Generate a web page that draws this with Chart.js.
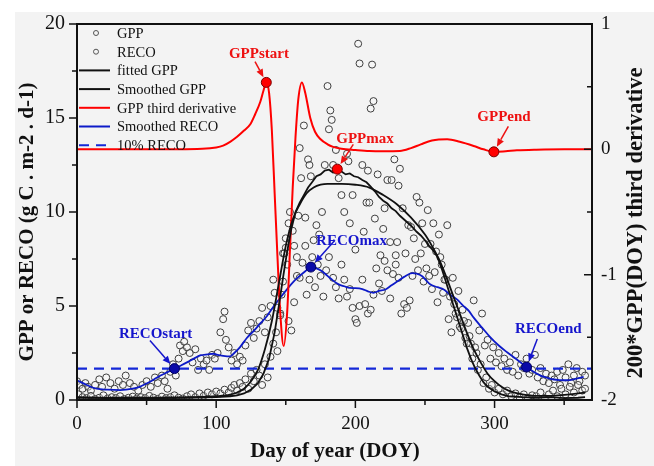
<!DOCTYPE html>
<html>
<head>
<meta charset="utf-8">
<script src="https://cdn.jsdelivr.net/npm/chart.js@4.4.1/dist/chart.umd.min.js"></script>
<style>
  html, body { margin: 0; padding: 0; background: #fff; }
  #wrap { width: 654px; height: 466px; }
</style>
</head>
<body>
<div id="wrap"><canvas id="chart" width="654" height="466"></canvas></div>
<script>
// Tick labels
const doyTicks = [0, 100, 200, 300];
const fluxTicks = [0, 5, 10, 15, 20];
const derivTicks = [-2, -1, 0, 1];

// Daily GPP observations (g C m-2 d-1)
const gppDoy = [
    1, 4, 7, 10, 13, 16, 19, 22, 25, 28,
    31, 34, 37, 40, 43, 46, 49, 52, 55, 58,
    61, 64, 67, 70, 73, 76, 79, 82, 85, 88,
    91, 94, 97, 100, 103, 106, 109, 111, 113, 115,
    117, 119, 121, 123, 125, 127, 129, 131, 133, 135,
    137, 139, 141, 143, 144, 146, 147, 148, 149, 150,
    151, 152, 153, 155, 156, 158, 159, 160, 161, 163,
    164, 166, 167, 168, 170, 172, 174, 176, 178, 180,
    181, 182, 183, 184, 186, 188, 190, 192, 194, 195,
    196, 198, 200, 202, 203, 205, 206, 208, 209, 210,
    211, 212, 213, 214, 216, 218, 220, 221, 223, 225,
    226, 228, 229, 230, 231, 232, 234, 236, 238, 240,
    242, 244, 246, 248, 250, 252, 254, 256, 258, 260,
    262, 264, 266, 268, 270, 272, 274, 276, 278, 280,
    282, 284, 286, 288, 290, 292, 294, 296, 298, 300,
    303, 306, 309, 312, 315, 318, 321, 324, 327, 330,
    333, 336, 339, 342, 345, 348, 351, 354, 357, 360,
    363, 365
];
const gppObs = [
    0.30, 0.15, 0.10, 0.22, 0.05, 0.12, 0.25, 0.08, 0.15, 0.10,
    0.20, 0.05, 0.12, 0.18, 0.08, 0.15, 0.10, 0.22, 0.12, 0.06,
    0.18, 0.10, 0.15, 0.25, 0.12, 0.08, 0.20, 0.30, 0.15, 0.35,
    0.22, 0.40, 0.30, 0.45, 0.35, 0.55, 0.40, 0.65, 0.80, 0.50,
    0.90, 0.70, 1.10, 0.60, 1.40, 1.00, 1.60, 1.30, 0.80, 1.90,
    1.20, 2.30, 3.00, 3.60, 2.60, 4.50, 5.60, 6.30, 7.80, 8.60,
    7.20, 9.40, 10.00, 9.00, 8.20, 7.60, 9.80, 13.40, 11.80, 14.60,
    9.70, 12.80, 12.50, 11.90, 8.50, 9.30, 8.80, 10.00, 12.50, 16.70,
    14.40, 15.40, 14.90, 12.50, 13.30, 11.80, 10.90, 10.00, 13.10, 12.70,
    9.40, 10.90, 8.00, 18.95, 17.90, 12.50, 8.95, 10.50, 12.20, 10.50,
    15.50, 17.84, 15.90, 9.65, 12.00, 7.70, 9.10, 10.20, 11.70, 8.40,
    11.70, 12.80, 7.70, 8.40, 11.40, 12.30, 10.20, 7.80, 9.30, 9.20,
    8.60, 10.80, 10.50, 9.40, 8.30, 10.10, 8.30, 9.40, 7.90, 8.80,
    7.20, 6.40, 9.30, 5.50, 6.50, 4.60, 5.80, 3.80, 4.20, 3.00,
    3.40, 2.20, 2.80, 1.60, 1.90, 0.90, 1.20, 0.60, 0.80, 0.40,
    0.60, 0.30, 0.50, 0.20, 0.35, 0.15, 0.30, 0.10, 0.25, 0.20,
    0.40, 0.10, 0.30, 0.50, 0.20, 0.60, 0.30, 0.70, 0.40, 0.80,
    0.50, 0.60
];

// Daily RECO observations (g C m-2 d-1)
const recoDoy = [
    0, 2, 4, 6, 8, 10, 13, 16, 18, 21,
    24, 27, 30, 33, 35, 38, 41, 44, 47, 50,
    53, 56, 58, 61, 63, 65, 67, 69, 71, 73,
    74, 76, 77, 79, 81, 83, 85, 87, 89, 91,
    93, 95, 97, 99, 101, 103, 105, 106, 107, 109,
    111, 113, 115, 117, 119, 121, 123, 125, 127, 129,
    131, 133, 135, 137, 139, 141, 142, 144, 146, 148,
    150, 152, 154, 156, 158, 160, 162, 164, 165, 167,
    169, 171, 173, 175, 177, 179, 181, 184, 186, 188,
    190, 192, 194, 196, 198, 200, 201, 203, 205, 207,
    209, 211, 213, 215, 217, 219, 221, 223, 225, 227,
    229, 231, 233, 235, 237, 239, 241, 243, 245, 247,
    249, 251, 253, 255, 257, 259, 261, 263, 265, 267,
    269, 271, 273, 275, 277, 279, 281, 283, 285, 287,
    289, 291, 293, 295, 297, 299, 301, 303, 305, 307,
    309, 311, 313, 315, 317, 319, 321, 323, 325, 327,
    329, 331, 333, 335, 337, 339, 341, 343, 345, 347,
    349, 351, 353, 355, 357, 359, 361, 363, 365
];
const recoObs = [
    1.00, 0.80, 0.60, 0.90, 0.70, 0.50, 0.80, 1.10, 0.70, 1.20,
    0.90, 0.60, 1.00, 0.80, 1.30, 0.90, 0.70, 0.50, 0.80, 1.00,
    0.70, 1.20, 0.90, 1.30, 1.00, 0.60, 1.50, 1.90, 1.30, 2.20,
    2.90, 2.60, 3.10, 2.80, 2.50, 2.00, 2.70, 1.60, 2.20, 1.90,
    2.10, 1.60, 2.40, 2.20, 2.50, 3.60, 4.30, 4.70, 3.20, 2.80,
    2.10, 2.50, 1.90, 2.30, 2.10, 2.90, 3.70, 4.10, 3.30, 3.80,
    4.20, 4.90, 3.60, 4.40, 5.00, 6.40, 5.70, 4.90, 4.60, 7.80,
    8.10, 4.20, 3.70, 5.20, 6.60, 6.50, 7.30, 8.20, 5.60, 6.40,
    7.60, 6.00, 7.20, 6.60, 5.50, 6.90, 7.60, 6.50, 6.00, 5.40,
    7.20, 6.40, 5.50, 5.90, 4.90, 4.30, 4.10, 5.00, 6.40, 5.10,
    4.60, 4.80, 5.60, 7.00, 6.20, 5.80, 7.40, 6.90, 5.40, 6.70,
    7.20, 6.50, 4.60, 5.10, 4.90, 5.30, 6.60, 7.50, 6.90, 7.80,
    6.30, 7.00, 6.60, 5.90, 6.80, 5.20, 7.60, 5.70, 6.40, 4.30,
    3.60, 5.10, 4.40, 3.90, 4.80, 3.30, 4.10, 3.00, 5.30, 2.50,
    3.70, 4.60, 2.90, 3.20, 2.20, 2.80, 2.00, 2.50, 1.80, 2.20,
    1.60, 2.00, 1.50, 2.40, 1.30, 1.90, 1.70, 2.20, 1.40, 1.60,
    2.40, 1.20, 1.70, 1.00, 1.40, 0.90, 1.30, 1.10, 1.50, 0.80,
    1.60, 1.20, 1.90, 0.90, 1.30, 1.70, 1.00, 1.50, 1.30
];

// Fitted GPP (double logistic)
const fittedDoy = [0, 20, 40, 60, 80, 100, 110, 115, 120, 125, 130, 135, 140, 145, 150, 155, 160, 165, 170, 175, 180, 190, 200, 210, 220, 230, 240, 250, 255, 260, 265, 270, 275, 280, 285, 290, 295, 300, 305, 310, 315, 320, 330, 340, 350, 360, 365];
const fittedGpp = [0.12, 0.12, 0.12, 0.13, 0.15, 0.20, 0.28, 0.40, 0.60, 1.00, 1.60, 2.70, 4.20, 6.20, 8.20, 9.60, 10.40, 11.00, 11.30, 11.45, 11.50, 11.50, 11.45, 11.30, 10.90, 10.40, 9.70, 8.80, 8.20, 7.50, 6.60, 5.60, 4.60, 3.60, 2.70, 2.00, 1.40, 1.00, 0.70, 0.50, 0.38, 0.30, 0.22, 0.22, 0.27, 0.35, 0.40];

// Smoothed GPP
const smoothGppDoy = [0, 20, 40, 60, 80, 100, 110, 115, 120, 125, 130, 134, 138, 142, 145, 148, 151, 154, 157, 160, 163, 166, 169, 172, 175, 178, 181, 184, 187, 190, 193, 196, 199, 202, 205, 208, 211, 214, 217, 220, 223, 226, 229, 232, 235, 238, 241, 244, 247, 250, 253, 256, 259, 262, 265, 268, 271, 274, 277, 280, 283, 286, 289, 292, 295, 300, 305, 310, 320, 330, 340, 350, 360, 365];
const smoothGpp = [0.15, 0.10, 0.12, 0.10, 0.12, 0.15, 0.20, 0.25, 0.35, 0.55, 0.90, 1.40, 2.20, 3.60, 5.00, 6.50, 7.90, 9.10, 10.00, 10.50, 10.90, 11.30, 11.60, 11.90, 12.00, 12.20, 12.25, 12.10, 12.28, 12.15, 12.00, 12.05, 11.90, 11.85, 11.70, 11.58, 11.35, 11.10, 10.80, 10.60, 10.45, 10.20, 10.05, 9.80, 9.60, 9.40, 9.20, 8.95, 8.75, 8.50, 8.20, 7.95, 7.60, 7.00, 6.30, 5.60, 4.90, 4.20, 3.50, 2.80, 2.20, 1.70, 1.30, 0.95, 0.70, 0.45, 0.30, 0.20, 0.15, 0.12, 0.15, 0.10, 0.12, 0.15];

// 200 * third derivative of fitted GPP (right axis)
const derivDoy = [0, 50, 90, 100, 105, 110, 115, 120, 124.5, 128, 131.7, 134, 136, 138, 140, 142, 144, 146, 148.5, 151, 153, 155, 157, 159, 161.6, 164, 167.6, 171, 175, 180, 184, 190, 200, 210, 220, 232, 240, 247, 255, 266, 275, 285, 292, 299.5, 308, 316, 330, 350, 370];
const derivGpp = [0, 0, 0.005, 0.015, 0.03, 0.06, 0.10, 0.15, 0.20, 0.28, 0.38, 0.47, 0.534, 0.45, 0.15, -0.35, -0.85, -1.30, -1.57, -1.30, -0.80, -0.30, 0.10, 0.40, 0.534, 0.45, 0.25, 0.14, 0.08, 0.04, 0.02, 0.005, -0.005, -0.013, -0.015, -0.013, 0.01, 0.04, 0.07, 0.08, 0.06, 0.027, 0.0, -0.02, -0.015, -0.008, -0.003, 0, 0];

// Smoothed RECO
const smoothRecoDoy = [0, 7, 14, 22, 31, 40, 45, 50, 55, 60, 65, 70, 75, 79, 84, 88.5, 94, 98, 101, 105, 110, 113, 117, 122, 127, 132, 136.5, 141, 146, 151, 155.6, 160, 164, 168, 172, 176, 180, 184, 188, 192, 196, 200, 205, 209, 213, 217, 221.6, 226, 230, 235, 240.8, 244, 248, 251, 254, 259, 263.5, 268, 273, 277, 281.5, 285, 291, 297, 303, 309, 316, 323, 328, 333, 338, 342.7, 347, 352, 358, 364];
const smoothReco = [1.05, 0.80, 0.60, 0.55, 0.53, 0.60, 0.70, 0.88, 1.08, 1.30, 1.48, 1.67, 1.85, 2.00, 2.20, 2.37, 2.43, 2.46, 2.40, 2.35, 2.32, 2.50, 2.80, 3.30, 3.68, 4.10, 4.47, 4.95, 5.44, 5.90, 6.30, 6.60, 6.85, 7.07, 7.00, 6.85, 6.60, 6.35, 6.15, 6.05, 5.96, 5.95, 5.90, 5.78, 5.70, 5.80, 5.88, 6.10, 6.30, 6.55, 6.75, 6.72, 6.58, 6.35, 6.14, 6.00, 5.88, 5.60, 5.35, 5.05, 4.74, 4.38, 3.85, 3.33, 2.90, 2.54, 2.15, 1.75, 1.50, 1.30, 1.18, 1.09, 1.06, 1.05, 1.12, 1.23];

// 10% of RECO amplitude threshold
const recoThresholdDoy = [0, 370];
const recoThreshold = [1.67, 1.67];

// Phenological dates
const gppTransitionDoy = [136, 299.5];       // GPPstart, GPPend (on the derivative curve)
const gppTransitionDeriv = [0.534, -0.02];
const gppMaxDoy = [187];
const gppMaxValue = [12.28];
const recoPhenoDoy = [70, 168, 323];          // RECOstart, RECOmax, RECOend
const recoPhenoValue = [1.67, 7.07, 1.75];

const RED = '#ff0000';
const BLUE = '#0d1ac8';
const SERIF = "'Liberation Serif', 'Times New Roman', serif";

function pairs(xs, ys) {
    return xs.map((x, i) => ({ x: x, y: ys[i] }));
}

// Callouts: text centre and arrow tail in data units (left axis)
const callouts = [
    { text: 'GPPstart', color: '#ee1111', at: [130.7, 18.42], tail: [127.9, 18.0], ds: 0, idx: 0 },
    { text: 'GPPmax', color: '#ee1111', at: [206.9, 13.9], tail: [198.5, 13.6], ds: 1, idx: 0 },
    { text: 'GPPend', color: '#ee1111', at: [306.8, 15.05], tail: [309.9, 14.55], ds: 0, idx: 1 },
    { text: 'RECOstart', color: '#1515cc', at: [56.5, 3.51], tail: [52.4, 3.16], ds: 2, idx: 0 },
    { text: 'RECOmax', color: '#1515cc', at: [197.2, 8.47], tail: [185.3, 8.5], ds: 2, idx: 1 },
    { text: 'RECOend', color: '#1515cc', at: [338.6, 3.77], tail: [330.7, 3.25], ds: 2, idx: 2 }
];

function drawArrow(ctx, x0, y0, x1, y1, color) {
    const ang = Math.atan2(y1 - y0, x1 - x0);
    const hx = x1 - 8 * Math.cos(ang);
    const hy = y1 - 8 * Math.sin(ang);
    ctx.strokeStyle = color;
    ctx.fillStyle = color;
    ctx.lineWidth = 1.5;
    ctx.beginPath();
    ctx.moveTo(x0, y0);
    ctx.lineTo(hx, hy);
    ctx.stroke();
    ctx.beginPath();
    ctx.moveTo(x1, y1);
    ctx.lineTo(hx + 3.5 * Math.sin(ang), hy - 3.5 * Math.cos(ang));
    ctx.lineTo(hx - 3.5 * Math.sin(ang), hy + 3.5 * Math.cos(ang));
    ctx.closePath();
    ctx.fill();
}

// Background, frame, minor ticks, titles, legend and callouts
const decorations = {
    id: 'decorations',
    beforeDraw(chart) {
        const ctx = chart.ctx;
        ctx.save();
        ctx.fillStyle = '#ffffff';
        ctx.fillRect(0, 0, chart.width, chart.height);
        ctx.fillStyle = '#f3f3f3';
        ctx.fillRect(15, 12, chart.width - 15, chart.height - 12);
        ctx.restore();
    },
    afterDraw(chart) {
        const ctx = chart.ctx;
        const a = chart.chartArea;
        const sx = chart.scales.x, sy = chart.scales.y, sy2 = chart.scales.y2;
        ctx.save();

        // frame
        ctx.strokeStyle = '#111';
        ctx.lineWidth = 2;
        ctx.strokeRect(a.left, a.top, a.right - a.left, a.bottom - a.top);

        // ticks
        ctx.lineWidth = 1.5;
        ctx.beginPath();
        for (let v = 0; v <= 370; v += 50) {
            const px = sx.getPixelForValue(v);
            ctx.moveTo(px, a.bottom);
            ctx.lineTo(px, a.bottom + (v % 100 === 0 ? 8 : 5));
        }
        for (let v = 0; v <= 20; v += 2.5) {
            const py = sy.getPixelForValue(v);
            ctx.moveTo(a.left, py);
            ctx.lineTo(a.left - (v % 5 === 0 ? 8 : 5), py);
        }
        for (let v = -2; v <= 1; v += 0.5) {
            const py = sy2.getPixelForValue(v);
            ctx.moveTo(a.right, py);
            ctx.lineTo(a.right - (Number.isInteger(v) ? 8 : 5), py);
        }
        ctx.stroke();

        // axis titles
        ctx.fillStyle = '#111';
        ctx.textAlign = 'center';
        ctx.textBaseline = 'middle';
        ctx.font = 'bold 21px ' + SERIF;
        ctx.fillText('Day of year (DOY)', 335, 452);
        ctx.save();
        ctx.translate(28, 222);
        ctx.rotate(-Math.PI / 2);
        ctx.fillText('GPP or RECO (g C . m-2 . d-1)', 0, 0);
        ctx.restore();
        ctx.font = 'bold 22.5px ' + SERIF;
        ctx.save();
        ctx.translate(636, 223);
        ctx.rotate(-Math.PI / 2);
        ctx.fillText('200*GPP(DOY) third derivative', 0, 0);
        ctx.restore();

        // callouts
        ctx.font = 'bold 15px ' + SERIF;
        callouts.forEach(c => {
            const pt = chart.getDatasetMeta(c.ds).data[c.idx];
            const tx = sx.getPixelForValue(c.tail[0]);
            const ty = sy.getPixelForValue(c.tail[1]);
            const ang = Math.atan2(pt.y - ty, pt.x - tx);
            drawArrow(ctx, tx, ty, pt.x - 6 * Math.cos(ang), pt.y - 6 * Math.sin(ang), c.color);
            ctx.fillStyle = c.color;
            ctx.fillText(c.text, sx.getPixelForValue(c.at[0]), sy.getPixelForValue(c.at[1]));
        });

        // legend (inside plot, top left)
        ctx.font = '14.5px ' + SERIF;
        ctx.textAlign = 'left';
        let row = 0;
        chart.data.datasets.forEach(ds => {
            if (!ds.legend) return;
            const y = a.top + 9 + row * 18.7;
            row++;
            if (ds.legend === 'point') {
                ctx.strokeStyle = '#555';
                ctx.lineWidth = 1;
                ctx.beginPath();
                ctx.arc(a.left + 19, y, 2.5, 0, Math.PI * 2);
                ctx.stroke();
            } else {
                ctx.strokeStyle = ds.borderColor;
                ctx.lineWidth = 2;
                ctx.setLineDash(ds.borderDash || []);
                ctx.beginPath();
                ctx.moveTo(a.left + 2, y);
                ctx.lineTo(a.left + 33, y);
                ctx.stroke();
                ctx.setLineDash([]);
            }
            ctx.fillStyle = '#111';
            ctx.fillText(ds.label, a.left + 40, y + 1);
        });
        ctx.restore();
    }
};

const pointStyle = {
    showLine: false,
    pointRadius: 3.5,
    pointBorderColor: '#3f3f3f',
    pointBackgroundColor: 'rgba(255,255,255,0.3)',
    pointBorderWidth: 1,
    borderColor: '#3f3f3f'
};

const datasets = [
    // 0: GPP start / end markers (derivative axis)
    { label: 'GPP transitions', data: pairs(gppTransitionDoy, gppTransitionDeriv), yAxisID: 'y2',
      showLine: false, pointRadius: 5, pointBackgroundColor: RED, pointBorderColor: '#7a0000', pointBorderWidth: 1, order: 0 },
    // 1: GPP max marker
    { label: 'GPP max', data: pairs(gppMaxDoy, gppMaxValue), yAxisID: 'y',
      showLine: false, pointRadius: 5, pointBackgroundColor: RED, pointBorderColor: '#7a0000', pointBorderWidth: 1, order: 0 },
    // 2: RECO markers
    { label: 'RECO phenology', data: pairs(recoPhenoDoy, recoPhenoValue), yAxisID: 'y',
      showLine: false, pointRadius: 5, pointBackgroundColor: '#0a0aa8', pointBorderColor: '#000060', pointBorderWidth: 1, order: 0 },
    { label: 'GPP', legend: 'point', data: pairs(gppDoy, gppObs), yAxisID: 'y', order: 6, ...pointStyle },
    { label: 'RECO', legend: 'point', data: pairs(recoDoy, recoObs), yAxisID: 'y', order: 6, ...pointStyle },
    { label: 'fitted GPP', legend: 'line', data: pairs(fittedDoy, fittedGpp), yAxisID: 'y',
      showLine: true, borderColor: '#111', borderWidth: 1.8, pointRadius: 0, cubicInterpolationMode: 'monotone', order: 1 },
    { label: 'Smoothed GPP', legend: 'line', data: pairs(smoothGppDoy, smoothGpp), yAxisID: 'y',
      showLine: true, borderColor: '#111', borderWidth: 1.8, pointRadius: 0, tension: 0, order: 1 },
    { label: 'GPP third derivative', legend: 'line', data: pairs(derivDoy, derivGpp), yAxisID: 'y2',
      showLine: true, borderColor: RED, borderWidth: 2, pointRadius: 0, cubicInterpolationMode: 'monotone', order: 2 },
    { label: 'Smoothed RECO', legend: 'line', data: pairs(smoothRecoDoy, smoothReco), yAxisID: 'y',
      showLine: true, borderColor: BLUE, borderWidth: 1.8, pointRadius: 0, cubicInterpolationMode: 'monotone', order: 3 },
    { label: '10% RECO', legend: 'line', data: pairs(recoThresholdDoy, recoThreshold), yAxisID: 'y',
      showLine: true, borderColor: '#1428d8', borderWidth: 2.2, borderDash: [10, 7], pointRadius: 0, order: 4 }
];

new Chart(document.getElementById('chart').getContext('2d'), {
    type: 'scatter',
    data: { datasets: datasets },
    options: {
        responsive: false,
        animation: false,
        layout: { padding: { top: 20, left: 0, right: 0, bottom: 0 } },
        plugins: {
            legend: { display: false },
            tooltip: { enabled: false }
        },
        scales: {
            x: {
                type: 'linear',
                min: 0,
                max: 370,
                afterBuildTicks: axis => { axis.ticks = doyTicks.map(v => ({ value: v })); },
                afterFit: axis => { axis.height = 66; },
                grid: { display: false, drawTicks: false },
                border: { display: false },
                ticks: { color: '#111', padding: 13, maxRotation: 0, font: { family: SERIF, size: 19 } }
            },
            y: {
                type: 'linear',
                position: 'left',
                min: 0,
                max: 20,
                afterBuildTicks: axis => { axis.ticks = fluxTicks.map(v => ({ value: v })); },
                afterFit: axis => { axis.width = 77; },
                grid: { display: false, drawTicks: false },
                border: { display: false },
                ticks: { color: '#111', padding: 12, font: { family: SERIF, size: 20 } }
            },
            y2: {
                type: 'linear',
                position: 'right',
                min: -2,
                max: 1,
                afterBuildTicks: axis => { axis.ticks = derivTicks.map(v => ({ value: v })); },
                afterFit: axis => { axis.width = 62; },
                grid: { display: false, drawTicks: false },
                border: { display: false },
                ticks: { color: '#111', padding: 9, font: { family: SERIF, size: 19 } }
            }
        }
    },
    plugins: [decorations]
});
</script>
</body>
</html>
